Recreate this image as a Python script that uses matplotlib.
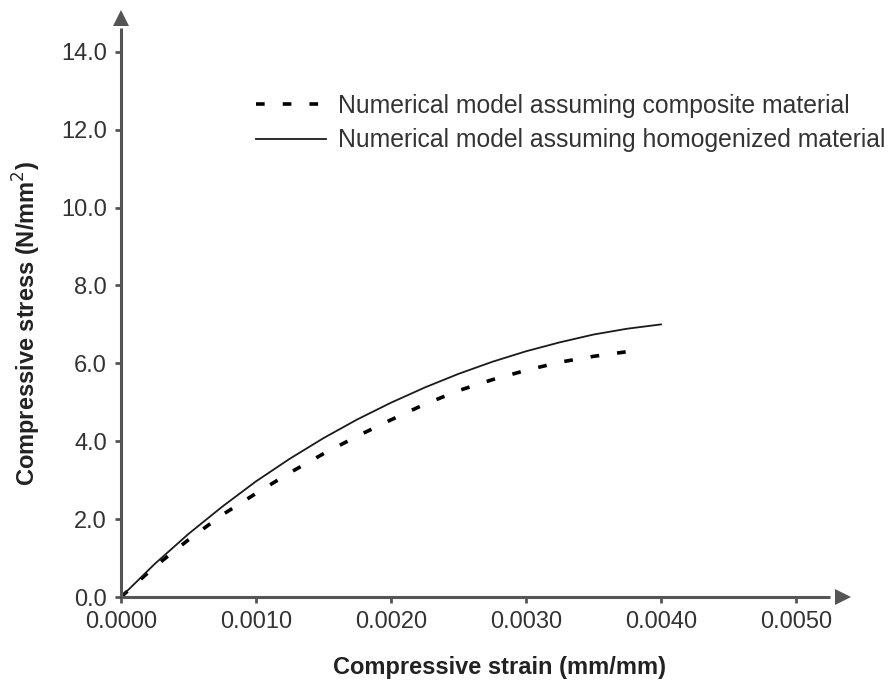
import matplotlib.pyplot as plt
import matplotlib.ticker as mticker

# values
strain_composite = [0.0, 0.00025, 0.0005, 0.00075, 0.0010, 0.00125, 0.0015, 0.00175,
                    0.0020, 0.00225, 0.0025, 0.00275, 0.0030, 0.00325, 0.0035, 0.00375]
stress_composite = [0.0, 0.78, 1.47, 2.11, 2.66, 3.19, 3.68, 4.13,
                    4.55, 4.95, 5.30, 5.58, 5.82, 6.03, 6.18, 6.30]

strain_homog = [0.0, 0.00025, 0.0005, 0.00075, 0.0010, 0.00125, 0.0015, 0.00175,
                0.0020, 0.00225, 0.0025, 0.00275, 0.0030, 0.00325, 0.0035, 0.00375, 0.0040]
stress_homog = [0.0, 0.85, 1.62, 2.32, 2.97, 3.55, 4.08, 4.56,
                4.99, 5.38, 5.73, 6.04, 6.31, 6.54, 6.74, 6.89, 7.00]

x_ticks = [0.0, 0.001, 0.002, 0.003, 0.004, 0.005]
y_ticks = [0, 2, 4, 6, 8, 10, 12, 14]

label_comp = "Numerical model assuming composite material"
label_homog = "Numerical model assuming homogenized material"

plt.rcParams['font.family'] = ['Liberation Sans', 'DejaVu Sans']
axis_col = "#555555"
text_col = "#333333"

fig = plt.figure(figsize=(8.88, 6.86), dpi=100)
ax = fig.add_axes([121 / 888, 89 / 686, 729 / 888, 588 / 686])

ax.plot(strain_composite, stress_composite, color="black", lw=2.6,
        dashes=(2.4, 5.0), label=label_comp, clip_on=False)
ax.plot(strain_homog, stress_homog, color="#1a1a1a", lw=1.3,
        label=label_homog, clip_on=False)

ax.set_xlim(0, 0.0054)
ax.set_ylim(0, 15.1)

for s in ["top", "right"]:
    ax.spines[s].set_visible(False)
for s in ["left", "bottom"]:
    ax.spines[s].set_color(axis_col)
    ax.spines[s].set_linewidth(2.2)
    ax.spines[s].set_capstyle("butt")
ax.spines["left"].set_bounds(0, 14.6)
ax.spines["bottom"].set_bounds(0, 0.00525)

# arrow heads at the ends of the axes
ax.plot([0.99], [0.0], marker=">", ms=12, color=axis_col, transform=ax.transAxes,
        clip_on=False, markeredgewidth=0)
ax.plot([0.0], [0.985], marker="^", ms=12, color=axis_col, transform=ax.transAxes,
        clip_on=False, markeredgewidth=0)

ax.set_xticks(x_ticks)
ax.set_yticks(y_ticks)
ax.xaxis.set_major_formatter(mticker.FormatStrFormatter("%.4f"))
ax.yaxis.set_major_formatter(mticker.FormatStrFormatter("%.1f"))
ax.tick_params(direction="out", length=4, width=2, color=axis_col,
               labelsize=17, labelcolor=text_col)
ax.tick_params(axis="x", pad=6)
ax.tick_params(axis="y", pad=6)

ax.set_xlabel("Compressive strain (mm/mm)", fontsize=17, fontweight="bold",
              color="#222222")
ax.set_ylabel("Compressive stress (N/mm$^2$)", fontsize=17, fontweight="bold",
              color="#222222")
ax.xaxis.set_label_coords(0.519, -0.1)
ax.yaxis.set_label_coords(-0.107, 0.465)

ax.legend(loc="upper left", bbox_to_anchor=(256 / 888, 1 - 94 / 686),
          bbox_transform=fig.transFigure, frameon=False, fontsize=17.8,
          handlelength=2.85, handletextpad=0.45, labelspacing=0.42,
          labelcolor=text_col, borderaxespad=0, borderpad=0)

fig.savefig("out.png", dpi=100)
